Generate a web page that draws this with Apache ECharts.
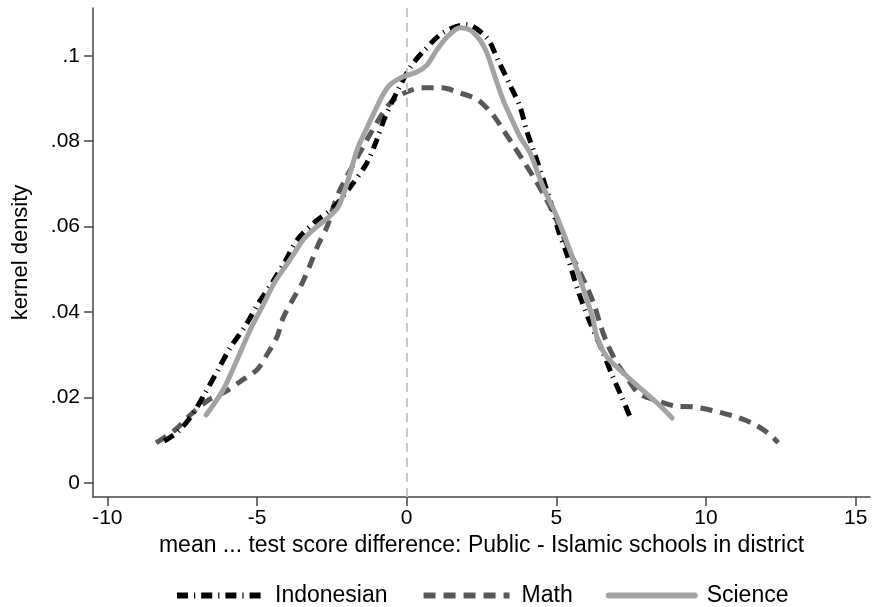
<!DOCTYPE html>
<html>
<head>
<meta charset="utf-8">
<script src="https://cdn.jsdelivr.net/npm/echarts@6/dist/echarts.min.js"></script>
<style>html,body{margin:0;padding:0;background:#fff}#c{width:874px;height:607px}</style>
</head>
<body>
<div id="c"></div>
<script>
const xTicks = [-10, -5, 0, 5, 10, 15];
const yTicks = [0, 0.02, 0.04, 0.06, 0.08, 0.1];
const seriesNames = ['Indonesian', 'Math', 'Science'];
const indonesian = [[-8.1,0.0098],[-7.64,0.012],[-7.17,0.0159],[-6.73,0.0211],[-6.3,0.0265],[-5.9,0.0316],[-5.37,0.037],[-4.96,0.042],[-4.5,0.0468],[-4.05,0.052],[-3.66,0.0569],[-3.06,0.0611],[-2.46,0.0644],[-1.83,0.0698],[-1.33,0.0749],[-1.0,0.0803],[-0.72,0.0857],[-0.29,0.092],[0.11,0.0972],[0.55,0.101],[1.21,0.1054],[2.0,0.1073],[2.68,0.1042],[3.05,0.099],[3.45,0.0932],[3.79,0.088],[4.02,0.0822],[4.29,0.0768],[4.86,0.0646],[5.06,0.0593],[5.36,0.0534],[5.7,0.0455],[6.1,0.038],[6.53,0.0311],[6.86,0.0253],[7.2,0.0199],[7.49,0.015]];
const math = [[-8.37,0.0094],[-7.74,0.0124],[-7.23,0.0159],[-6.63,0.0194],[-6.07,0.0213],[-5.57,0.0237],[-5.0,0.0265],[-4.67,0.03],[-4.33,0.0342],[-4.13,0.0386],[-3.79,0.0431],[-3.49,0.0468],[-3.23,0.051],[-2.96,0.0557],[-2.66,0.06],[-2.46,0.0644],[-2.23,0.0686],[-1.29,0.0808],[-0.66,0.088],[-0.22,0.0908],[0.51,0.0925],[1.18,0.0925],[1.78,0.0913],[2.38,0.0897],[2.88,0.0862],[3.22,0.0827],[3.55,0.0792],[3.89,0.0755],[4.29,0.071],[4.62,0.067],[4.96,0.0623],[5.46,0.0539],[5.72,0.0503],[6.02,0.0459],[6.29,0.0412],[6.46,0.0372],[6.69,0.0328],[7.02,0.0281],[7.36,0.0246],[7.73,0.0211],[8.3,0.0194],[8.97,0.018],[9.57,0.0178],[10.24,0.0169],[10.9,0.0157],[11.54,0.014],[12.07,0.0117],[12.41,0.0094]];
const science = [[-6.7,0.0159],[-6.13,0.0218],[-5.67,0.0288],[-5.23,0.0358],[-4.83,0.0412],[-4.4,0.0471],[-3.9,0.0522],[-3.46,0.0569],[-3.0,0.06],[-2.56,0.0625],[-2.29,0.0646],[-2.06,0.0686],[-1.83,0.074],[-1.63,0.0785],[-1.33,0.0831],[-0.83,0.0904],[-0.56,0.0932],[-0.12,0.0951],[0.34,0.0962],[0.68,0.0979],[1.01,0.1014],[1.35,0.1044],[1.78,0.1066],[2.11,0.1061],[2.45,0.1037],[2.68,0.1007],[2.95,0.0951],[3.22,0.0897],[3.52,0.085],[3.79,0.081],[4.12,0.0773],[4.56,0.0693],[5.02,0.0623],[5.36,0.0562],[5.69,0.0499],[6.02,0.0429],[6.22,0.0385],[6.36,0.034],[6.69,0.0295],[7.23,0.0258],[7.8,0.0222],[8.37,0.0187],[8.87,0.0152]];
const refX = 0;

const FONT = "'Liberation Sans', Arial, sans-serif";
const chart = echarts.init(document.getElementById('c'), null, {renderer: 'canvas'});
const axisCol = '#444';
function yFmt(v) {
  if (Math.abs(v) < 1e-9) return '0';
  let s = (+v.toFixed(2)).toString();
  return s.replace(/^0\./, '.');
}
chart.setOption({
  animation: false,
  backgroundColor: '#fff',
  grid: {left: 93, right: 4, top: 8, bottom: 110, containLabel: false},
  xAxis: {
    type: 'value', min: -10.48, max: 15.48,
    name: 'mean ... test score difference: Public - Islamic schools in district',
    nameLocation: 'middle', nameGap: 36,
    nameTextStyle: {fontFamily: FONT, fontSize: 23, color: '#000'},
    axisLine: {onZero: false, lineStyle: {color: axisCol, width: 1.5}},
    axisTick: {show: true, length: 9, customValues: xTicks, lineStyle: {color: axisCol, width: 1.5}},
    axisLabel: {customValues: xTicks, fontFamily: FONT, fontSize: 21, color: '#000', margin: 11},
    splitLine: {show: false}
  },
  yAxis: {
    type: 'value', min: -0.0033, max: 0.1112,
    name: 'kernel density', nameLocation: 'middle', nameGap: 61, nameRotate: 90,
    nameTextStyle: {fontFamily: FONT, fontSize: 22, color: '#000'},
    axisLine: {show: true, onZero: false, lineStyle: {color: axisCol, width: 1.5}},
    axisTick: {show: true, length: 9, customValues: yTicks, lineStyle: {color: axisCol, width: 1.5}},
    axisLabel: {customValues: yTicks, formatter: yFmt, fontFamily: FONT, fontSize: 21, color: '#000', margin: 13},
    splitLine: {show: false}
  },
  legend: {
    left: 169, top: 579, itemWidth: 86, itemHeight: 14, itemGap: 33,
    itemStyle: {opacity: 0},
    lineStyle: {width: 6},
    textStyle: {fontFamily: FONT, fontSize: 23, color: '#000', padding: [0, 0, 0, 7]},
    data: seriesNames
  },
  series: [
    {
      name: seriesNames[0], type: 'line', data: indonesian, smooth: 0.3, symbol: 'none', z: 4,
      lineStyle: {color: '#000', width: 5, type: [11, 6, 1.2, 6]},
      itemStyle: {color: '#000'},
      markLine: {
        silent: true, symbol: ['none', 'none'], label: {show: false},
        lineStyle: {color: '#c8c8c8', width: 2, type: [9, 6]},
        data: [{xAxis: refX}]
      }
    },
    {
      name: seriesNames[1], type: 'line', data: math, smooth: 0.3, symbol: 'none', z: 3,
      lineStyle: {color: '#585858', width: 5, type: [12, 8]},
      itemStyle: {color: '#585858'}
    },
    {
      name: seriesNames[2], type: 'line', data: science, smooth: 0.3, symbol: 'none', z: 5,
      lineStyle: {color: '#a3a3a3', width: 5, type: 'solid', cap: 'round'},
      itemStyle: {color: '#a3a3a3'}
    }
  ]
});
</script>
</body>
</html>
